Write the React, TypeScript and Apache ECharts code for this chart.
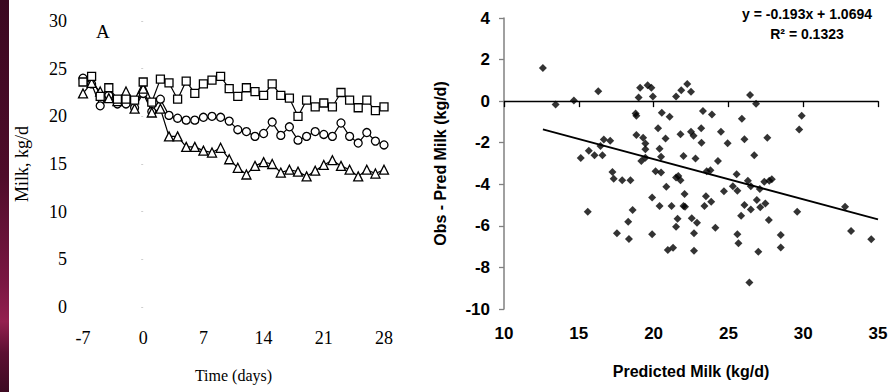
import React, { useEffect, useRef } from "react";
import * as echarts from "echarts";

// ---- Left panel (A): milk yield over time ----
const days = [-7, -6, -5, -4, -3, -2, -1, 0, 1, 2, 3, 4, 5, 6, 7, 8, 9, 10, 11, 12, 13, 14, 15, 16, 17, 18, 19, 20, 21, 22, 23, 24, 25, 26, 27, 28];
const squareVals = [23.6, 24.2, 22.1, 23.0, 21.8, 21.8, 21.7, 23.6, 21.5, 23.9, 23.5, 21.8, 23.7, 22.4, 23.4, 23.8, 24.2, 22.9, 22.1, 23.0, 22.6, 22.2, 23.4, 22.2, 21.9, 20.0, 21.7, 21.0, 21.4, 21.0, 22.5, 21.7, 20.9, 21.7, 20.6, 21.0];
const circleVals = [24.0, 23.4, 21.1, 22.2, 21.3, 21.3, 20.9, 22.4, 20.5, 21.8, 20.1, 19.8, 19.6, 19.6, 19.9, 20.0, 19.9, 19.5, 18.6, 18.4, 17.9, 18.2, 19.4, 18.0, 18.9, 17.5, 17.9, 18.4, 18.1, 17.9, 19.3, 17.9, 17.2, 18.3, 17.4, 17.0];
const triangleVals = [22.4, 23.5, 22.6, 21.9, 21.6, 22.6, 20.8, 22.9, 20.4, 20.8, 17.9, 17.9, 16.8, 16.8, 16.4, 16.2, 16.7, 15.5, 14.6, 13.9, 14.8, 15.2, 15.0, 14.1, 14.4, 14.2, 13.7, 14.3, 14.9, 15.4, 14.8, 14.4, 13.7, 14.4, 14.0, 14.4];

// ---- Right panel: residuals vs predicted ----
const predX = [12.6, 13.45, 14.67, 16.3, 19.1, 19.0, 19.6, 19.85, 19.95, 21.5, 21.85, 22.25, 22.5, 26.45, 26.85, 18.8, 18.85, 20.55, 21.07, 23.3, 23.9, 25.9, 29.9, 20.3, 18.85, 19.3, 20.8, 21.8, 16.67, 17.1, 16.45, 19.45, 19.45, 20.4, 15.67, 16.05, 16.58, 15.13, 19.18, 19.45, 20.5, 20.13, 20.5, 17.25, 17.33, 17.9, 18.45, 20.85, 21.5, 21.65, 21.8, 19.9, 20.4, 21.2, 21.6, 15.6, 18.6, 18.3, 21.5, 17.55, 18.35, 19.9, 20.95, 21.3, 22.5, 22.67, 23.18, 24.5, 24.95, 23.2, 22.0, 22.8, 24.3, 23.55, 23.8, 24.7, 22.07, 23.5, 23.85, 22.0, 22.1, 23.4, 29.73, 26.07, 27.6, 26.73, 25.55, 25.3, 25.6, 26.3, 26.5, 27.1, 27.4, 27.73, 27.9, 26.07, 25.85, 26.9, 26.5, 27.13, 27.47, 27.7, 29.6, 32.8, 33.2, 34.55, 22.55, 22.9, 22.7, 24.13, 25.6, 25.67, 28.5, 28.5, 22.7, 27.0, 26.4];
const residY = [1.6, -0.16, 0.03, 0.48, 0.64, 0.18, 0.77, 0.64, 0.22, 0.22, 0.53, 0.82, 0.45, 0.29, -0.12, -0.6, -0.7, -0.56, -0.75, -0.47, -0.64, -0.85, -0.7, -1.31, -1.63, -1.76, -1.8, -1.59, -1.84, -1.9, -2.16, -2.04, -2.32, -2.29, -2.39, -2.6, -2.6, -2.74, -2.88, -2.72, -2.68, -3.37, -3.43, -3.41, -3.73, -3.8, -3.8, -4.12, -3.67, -3.6, -3.8, -4.63, -5.05, -5.05, -5.66, -5.32, -5.24, -5.8, -6.04, -6.36, -6.63, -6.4, -7.16, -7.05, -1.47, -1.67, -1.31, -1.47, -2.03, -2.0, -2.64, -2.76, -2.88, -3.37, -3.32, -4.33, -4.47, -4.57, -4.84, -5.05, -5.08, -5.05, -1.36, -1.83, -1.76, -2.6, -3.52, -4.09, -4.31, -3.83, -4.09, -4.23, -3.88, -3.83, -3.76, -5.0, -5.51, -4.76, -5.21, -5.11, -4.92, -5.72, -5.32, -5.08, -6.25, -6.65, -5.64, -5.85, -6.36, -6.09, -6.4, -6.84, -6.44, -7.04, -7.2, -7.24, -8.73];
const trendX = [12.6, 35];
const trendY = [-1.36, -5.69];
const equationText = "y = -0.193x + 1.0694";
const r2Text = "R² = 0.1323";

const leftXTicks = { min: -7, max: 28, interval: 7 };
const leftYTicks = { min: 0, max: 30, interval: 5 };
const rightXTicks = { min: 10, max: 35, interval: 5 };
const rightYTicks = { min: -10, max: 4, interval: 2 };

const SERIF = "'Liberation Serif', 'Times New Roman', serif";
const SANS = "'Liberation Sans', Arial, sans-serif";

export default function App() {
  const ref = useRef<HTMLDivElement>(null);
  useEffect(() => {
    if (!ref.current) return;
    const chart = echarts.init(ref.current, null, { renderer: "svg" });
    const pairs = (xs: number[], ys: number[]) => xs.map((x, i) => [x, ys[i]]);
    const markerStyle = { color: "#fff", borderColor: "#000", borderWidth: 1.3 };
    const leftLine = (name: string, vals: number[], symbol: string, size: number) => ({
      name,
      type: "line",
      xAxisIndex: 0,
      yAxisIndex: 0,
      data: pairs(days, vals),
      symbol,
      symbolSize: size,
      showAllSymbol: true,
      lineStyle: { color: "#000", width: 1.2 },
      itemStyle: markerStyle,
    });
    const option: any = {
      animation: false,
      backgroundColor: "#fff",
      grid: [
        { left: 83, top: 21, width: 301, height: 286 },
        { left: 504, top: 18, width: 374, height: 291 },
      ],
      xAxis: [
        {
          gridIndex: 0,
          type: "value",
          ...leftXTicks,
          axisLine: { show: false },
          axisTick: { show: false },
          splitLine: { show: false },
          axisLabel: { fontFamily: SERIF, fontSize: 18, color: "#000", margin: 22 },
          name: "Time (days)",
          nameLocation: "middle",
          nameGap: 60,
          nameTextStyle: { fontFamily: SERIF, fontSize: 16, color: "#000" },
        },
        {
          gridIndex: 1,
          type: "value",
          ...rightXTicks,
          position: "bottom",
          axisLine: { show: false, onZero: false },
          axisTick: { show: false },
          splitLine: { show: false },
          axisLabel: { fontFamily: SANS, fontWeight: "bold", fontSize: 17, color: "#000", margin: 16 },
          name: "Predicted Milk (kg/d)",
          nameLocation: "middle",
          nameGap: 54,
          nameTextStyle: { fontFamily: SANS, fontWeight: "bold", fontSize: 16, color: "#000" },
        },
        {
          gridIndex: 1,
          type: "value",
          ...rightXTicks,
          position: "top",
          axisLine: { show: true, onZero: true, lineStyle: { color: "#000", width: 1.3 } },
          axisTick: { show: true, inside: true, length: 6, lineStyle: { color: "#000", width: 1.3 } },
          splitLine: { show: false },
          axisLabel: { show: false },
        },
      ],
      yAxis: [
        {
          gridIndex: 0,
          type: "value",
          ...leftYTicks,
          axisLine: { show: false },
          axisTick: { show: true, length: 2, lineStyle: { color: "#cfcfcf" } },
          splitLine: { show: false },
          axisLabel: { fontFamily: SERIF, fontSize: 18, color: "#000", margin: 16 },
          name: "Milk, kg/d",
          nameLocation: "middle",
          nameGap: 52,
          nameTextStyle: { fontFamily: SERIF, fontSize: 18, color: "#000" },
        },
        {
          gridIndex: 1,
          type: "value",
          ...rightYTicks,
          axisLine: { show: true, lineStyle: { color: "#808080", width: 1.5 } },
          axisTick: { show: true, length: 5, lineStyle: { color: "#808080", width: 1.3 } },
          splitLine: { show: false },
          axisLabel: { fontFamily: SANS, fontWeight: "bold", fontSize: 17, color: "#000", margin: 14 },
          name: "Obs - Pred Milk (kg/d)",
          nameLocation: "middle",
          nameGap: 56,
          nameTextStyle: { fontFamily: SANS, fontWeight: "bold", fontSize: 16, color: "#000" },
        },
      ],
      graphic: [
        {
          type: "rect",
          left: 0,
          top: 0,
          shape: { width: 9, height: 392 },
          style: {
            fill: new echarts.graphic.LinearGradient(0, 0, 0, 1, [
              { offset: 0, color: "#3b0820" },
              { offset: 0.45, color: "#4e0c2a" },
              { offset: 0.72, color: "#7a1742" },
              { offset: 0.82, color: "#94204f" },
              { offset: 0.9, color: "#5c0f31" },
              { offset: 1, color: "#3d0a22" },
            ]),
          },
        },
        {
          type: "text",
          left: 96,
          top: 22,
          style: { text: "A", fontFamily: SERIF, fontSize: 19, fill: "#000" },
        },
        {
          type: "text",
          x: 807,
          y: 14,
          style: { text: equationText, fontFamily: SANS, fontWeight: "bold", fontSize: 14, fill: "#000", align: "center", verticalAlign: "middle" },
        },
        {
          type: "text",
          x: 807,
          y: 34,
          style: { text: r2Text, fontFamily: SANS, fontWeight: "bold", fontSize: 14, fill: "#000", align: "center", verticalAlign: "middle" },
        },
      ],
      series: [
        leftLine("circle", circleVals, "circle", 8),
        leftLine("triangle", triangleVals, "triangle", 9),
        leftLine("square", squareVals, "rect", 8),
        {
          name: "trend",
          type: "line",
          xAxisIndex: 1,
          yAxisIndex: 1,
          data: pairs(trendX, trendY),
          symbol: "none",
          lineStyle: { color: "#000", width: 1.8 },
        },
        {
          name: "residuals",
          type: "scatter",
          xAxisIndex: 1,
          yAxisIndex: 1,
          data: pairs(predX, residY),
          symbol: "diamond",
          symbolSize: 8,
          itemStyle: { color: "#000" },
        },
      ],
    };
    chart.setOption(option);
    return () => chart.dispose();
  }, []);
  return <div ref={ref} style={{ position: "absolute", left: 0, top: 0, width: 893, height: 392 }} />;
}
